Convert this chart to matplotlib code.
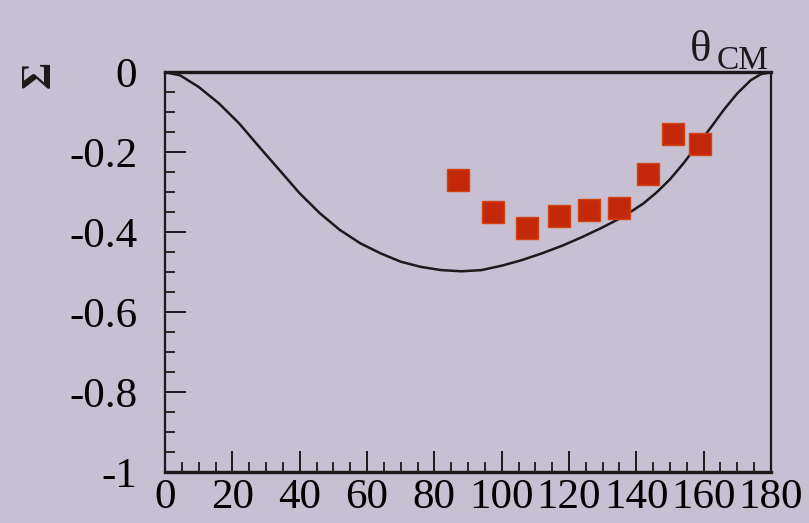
import numpy as np
import matplotlib.pyplot as plt
from matplotlib.ticker import MultipleLocator

plt.rcParams['font.family'] = ['Liberation Serif', 'DejaVu Serif']

# theory curve
theta_curve = [0, 4.5, 10, 16, 22, 28, 34, 40, 46, 52, 58, 64, 70, 76, 82, 88,
               94, 100, 106, 112, 118, 124, 130, 136, 142, 146, 150, 154, 158,
               162, 166, 170, 174, 177, 180]
sigma_curve = [0, -0.008, -0.037, -0.078, -0.128, -0.187, -0.245, -0.303, -0.353,
               -0.395, -0.428, -0.453, -0.474, -0.487, -0.495, -0.498,
               -0.495, -0.484, -0.470, -0.453, -0.434, -0.412, -0.388, -0.362,
               -0.329, -0.301, -0.268, -0.228, -0.184, -0.140, -0.094, -0.053,
               -0.020, -0.005, 0]

# measured points
theta_data = [87, 97.5, 107.5, 117, 126, 135, 143.5, 151, 159]
sigma_data = [-0.27, -0.35, -0.39, -0.36, -0.345, -0.34, -0.255, -0.155, -0.18]

xticks = [0, 20, 40, 60, 80, 100, 120, 140, 160, 180]
yticks = [0, -0.2, -0.4, -0.6, -0.8, -1]
ytick_labels = ['0', '-0.2', '-0.4', '-0.6', '-0.8', '-1']

bg = '#c7bfd2'
fig = plt.figure(figsize=(8.09, 5.23), dpi=100, facecolor=bg)
ax = fig.add_axes([0.204, 0.0975, 0.749, 0.7645], facecolor=bg)

ax.plot(theta_curve, sigma_curve, color='#1a1a1a', lw=1.8)
ax.plot(theta_data, sigma_data, 's', ms=16, color='#c4280a', mec='#d2440e', mew=1)

ax.set_xlim(0, 180)
ax.set_ylim(-1, 0)
ax.set_xticks(xticks)
ax.set_xticklabels([str(t) for t in xticks])
ax.set_yticks(yticks)
ax.set_yticklabels(ytick_labels)
ax.xaxis.set_minor_locator(MultipleLocator(5))
ax.yaxis.set_minor_locator(MultipleLocator(0.05))

ax.tick_params(axis='both', which='both', direction='in', color='#1a1a1a')
ax.tick_params(axis='both', which='major', length=15, width=1.4)
ax.tick_params(axis='both', which='minor', length=7.5, width=1.3)
ax.tick_params(axis='x', which='major', labelsize=31, pad=5)
ax.tick_params(axis='y', which='major', labelsize=31, pad=20)

for s in ['top', 'bottom']:
    ax.spines[s].set_linewidth(2.4)
for s in ['left', 'right']:
    ax.spines[s].set_linewidth(1.6)
for s in ax.spines.values():
    s.set_color('#1a1a1a')

fig.text(0.049, 0.857, 'Σ', rotation=90, fontsize=30, fontweight='bold',
         ha='center', va='center', color='#1a1a1a')
fig.text(0.866, 0.905, 'θ', fontsize=32, ha='center', va='center', color='#1a1a1a')
fig.text(0.918, 0.884, 'CM', fontsize=24, ha='center', va='center', color='#1a1a1a')

plt.savefig('out.png', dpi=100, facecolor=bg)
